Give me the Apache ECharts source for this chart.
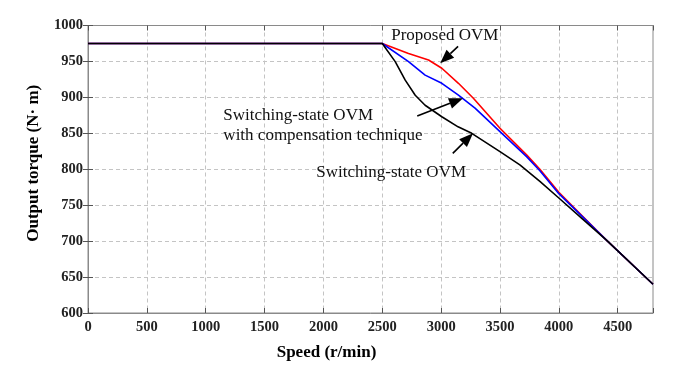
<!DOCTYPE html>
<html>
<head>
<meta charset="utf-8">
<script src="https://cdn.jsdelivr.net/npm/echarts@6/dist/echarts.min.js"></script>
<style>
html,body{margin:0;padding:0;background:#fff;}
#chart{width:677px;height:383px;}
</style>
</head>
<body>
<div id="chart"></div>
<script>
// Data (speed r/min, torque N·m)
const proposedOVM = [[0,975],[2500,975],[2723,961],[2893,952],[3006,940.5],[3147,919.6],[3274,898.7],[3500,857],[3726,820],[3839,800],[4000,768],[4200,735],[4400,702],[4800,640]];
const compensationOVM = [[0,975],[2500,975],[2723,949.7],[2864,931],[3006,919.6],[3147,903],[3288,885],[3500,852.3],[3726,817.5],[3839,798],[4000,766],[4200,734],[4400,702],[4800,640]];
const switchingOVM = [[0,975],[2500,975],[2610,949.7],[2695,924],[2780,903],[2864,889],[3006,873],[3144,859],[3260,850],[3500,824.5],[3669,806],[3839,783],[4000,760],[4200,731],[4400,702],[4800,640]];
const xTicks = {min:0, max:4800, interval:500};
const yTicks = {min:600, max:1000, interval:50};
const xName = 'Speed (r/min)';
const yName = 'Output torque (N· m)';
// annotation arrows: [from, tip] in data coordinates
const arrows = [
  [[3144,971],[2992,947.4]],
  [[2797,874],[3186,898.7]],
  [[3099,822],[3271,850]]
];
const labels = [
  {text:'Proposed OVM', at:[2576,986.5]},
  {text:'Switching-state OVM\nwith compensation technique', at:[1150,861.5]},
  {text:'Switching-state OVM', at:[1940,795]}
];

const chart = echarts.init(document.getElementById('chart'));
const serif = '"Liberation Serif","Times New Roman",serif';
const gridColor = '#c4c4c4';
const axisColor = '#8a8a8a';

const baseX = {
  type:'value', min:xTicks.min, max:xTicks.max, interval:xTicks.interval,
  axisLine:{show:true, lineStyle:{color:axisColor, width:1}},
  axisTick:{show:true, inside:true, length:5, lineStyle:{color:'#555'}},
};
const baseY = {
  type:'value', min:yTicks.min, max:yTicks.max, interval:yTicks.interval,
  axisLine:{show:true, lineStyle:{color:axisColor, width:1}},
  axisTick:{show:true, inside:true, length:5, lineStyle:{color:'#555'}},
};

chart.setOption({
  animation:false,
  grid:{left:88, top:25.5, right:24, bottom:70, show:true, borderColor:axisColor, borderWidth:1},
  xAxis:[
    Object.assign({}, baseX, {
      position:'bottom',
      name:xName, nameLocation:'middle', nameGap:31,
      nameTextStyle:{fontFamily:serif, fontWeight:'bold', fontSize:17, color:'#000', padding:[0,88,0,0]},
      axisLabel:{fontFamily:serif, fontWeight:'bold', fontSize:14.5, color:'#222', margin:7,
        formatter:function(v){return v>4500?'':String(v);}},
      splitLine:{show:true, lineStyle:{color:gridColor, type:[4,3], width:1}}
    }),
    Object.assign({}, baseX, {position:'top', axisLabel:{show:false}, splitLine:{show:false}})
  ],
  yAxis:[
    Object.assign({}, baseY, {
      position:'left',
      name:yName, nameLocation:'middle', nameGap:46,
      nameTextStyle:{fontFamily:serif, fontWeight:'bold', fontSize:17, color:'#000', padding:[0,0,0,12]},
      axisLabel:{fontFamily:serif, fontWeight:'bold', fontSize:14.5, color:'#222', margin:5,
        formatter:function(v){return String(v);}},
      splitLine:{show:true, lineStyle:{color:gridColor, type:[4,3], width:1}}
    }),
    Object.assign({}, baseY, {position:'right', axisLabel:{show:false}, splitLine:{show:false}})
  ],
  series:[
    {name:'Proposed OVM', type:'line', data:proposedOVM, showSymbol:false, symbol:'none',
     lineStyle:{color:'#ff0000', width:1.6}, z:2},
    {name:'Switching-state OVM with compensation technique', type:'line', data:compensationOVM, showSymbol:false, symbol:'none',
     lineStyle:{color:'#0000ff', width:1.6}, z:3},
    {name:'Switching-state OVM', type:'line', data:switchingOVM, showSymbol:false, symbol:'none',
     lineStyle:{color:'#000000', width:1.6}, z:4}
  ]
});

const gfx = [];
arrows.forEach(function(a){
  const p0 = chart.convertToPixel({xAxisIndex:0,yAxisIndex:0}, a[0]);
  const p1 = chart.convertToPixel({xAxisIndex:0,yAxisIndex:0}, a[1]);
  const dx = p1[0]-p0[0], dy = p1[1]-p0[1];
  const L = Math.sqrt(dx*dx+dy*dy), ux = dx/L, uy = dy/L;
  const hl = 14, hw = 5.5;
  const bx = p1[0]-ux*hl, by = p1[1]-uy*hl;
  gfx.push({type:'line', shape:{x1:p0[0],y1:p0[1],x2:bx,y2:by}, style:{stroke:'#000', lineWidth:1.6}, z:10});
  gfx.push({type:'polygon', shape:{points:[[p1[0],p1[1]],[bx-uy*hw,by+ux*hw],[bx+uy*hw,by-ux*hw]]}, style:{fill:'#000'}, z:10});
});
labels.forEach(function(l){
  const p = chart.convertToPixel({xAxisIndex:0,yAxisIndex:0}, l.at);
  gfx.push({type:'text', x:p[0], y:p[1], z:11,
    style:{text:l.text, fontFamily:serif, fontSize:17, fill:'#111', textAlign:'left', textVerticalAlign:'middle', lineHeight:20}});
});
chart.setOption({graphic:gfx});
</script>
</body>
</html>
